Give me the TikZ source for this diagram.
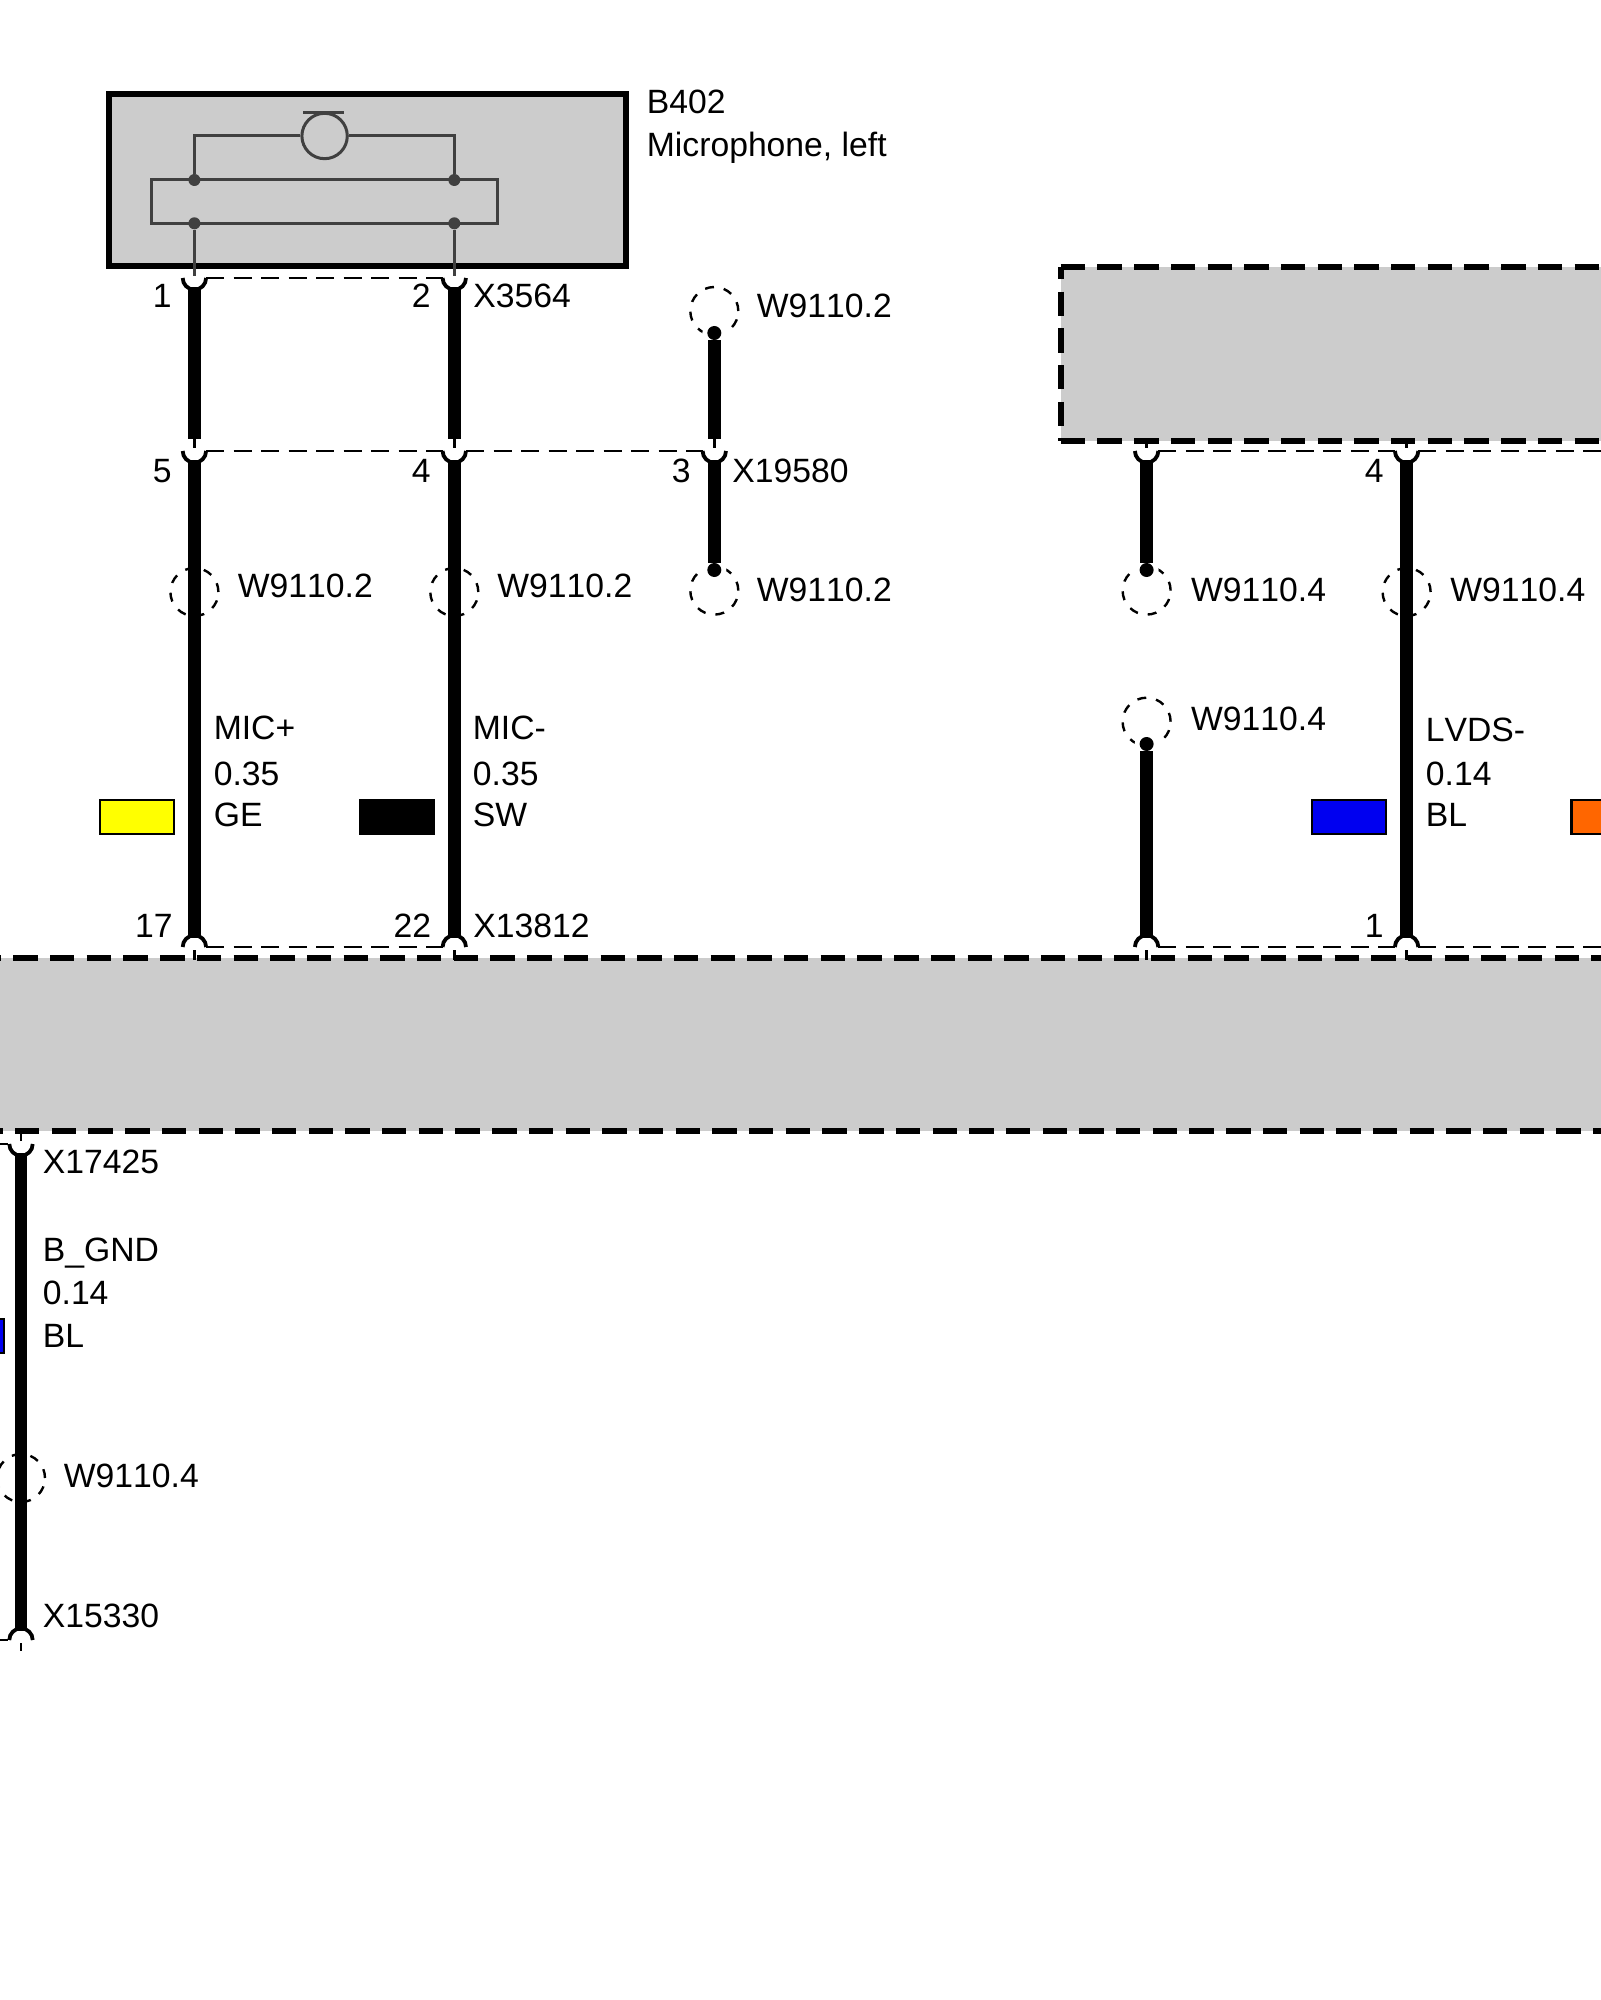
\documentclass[tikz,border=0pt]{standalone}
\usepackage{fontspec}
\setmainfont[Kerning=Off]{Liberation Sans}
\definecolor{boxgray}{HTML}{CCCCCC}
\definecolor{symgray}{HTML}{404040}
\definecolor{wireblue}{HTML}{0000F0}
\definecolor{wireorange}{HTML}{FF6600}
\definecolor{wireyellow}{HTML}{FFFF00}
\begin{document}
\begin{tikzpicture}[
    x=0.5pt, y=-0.5pt,
    lbl/.style={anchor=base west, inner sep=0pt, xshift=-0.5pt, font=\fontsize{16.85}{18}\selectfont},
    pinnum/.style={anchor=base east, inner sep=0pt, font=\fontsize{16.85}{18}\selectfont},
    wire/.style={line width=6.3pt},
    pinstub/.style={line width=1.3pt},
    pinarc/.style={line width=1.9pt},
    conndash/.style={line width=1.4pt, dash pattern=on 9pt off 4.75pt},
    compdash/.style={line width=3pt, dash pattern=on 12.2pt off 6.15pt},
    splice/.style={circle, minimum size=24pt, inner sep=0pt, draw=black, line width=1.2pt, dash pattern=on 4.5pt off 5pt},
    wireend/.style={circle, minimum size=7pt, inner sep=0pt, fill=black},
    wirehalo/.style={circle, minimum size=12pt, inner sep=0pt, fill=white},
    swatch/.style={minimum width=37pt, minimum height=17pt, inner sep=0pt, draw=black, line width=1.3pt},
    sympt/.style={circle, minimum size=6pt, inner sep=0pt, fill=symgray},
    symline/.style={draw=symgray, line width=1.5pt}
]
    \useasboundingbox (0,0) rectangle (1600,2000);

    % component boxes
    \node[minimum width=258.5pt, minimum height=86pt, inner sep=0pt, fill=boxgray, draw=black, line width=3pt] (mic) at (367.7,179.7) {};
    \fill[boxgray] (1060.7,266.7) rectangle (1620,440.7);
    \draw[compdash] (1060.7,266.7) -- (1620,266.7);
    \draw[compdash] (1060.7,440.7) -- (1620,440.7);
    \draw[compdash, dash phase=5.85pt] (1060.7,266.7) -- (1060.7,440.7);
    \fill[boxgray] (-20,958.3) rectangle (1620,1131);
    \draw[compdash] (-23.4,958.3) -- (1620,958.3);
    \draw[compdash] (-21.7,1131) -- (1620,1131);

    % microphone symbol
    \node[circle, minimum size=22.7pt, inner sep=0pt, symline] (capsule) at (324.6,136) {};
    \draw[symline] (303,112.7) -- (344,112.7);
    \coordinate (ml) at (194.4,136);
    \coordinate (mr) at (454.3,136);
    \node[sympt] (t1) at (194.4,180) {};
    \node[sympt] (t2) at (454.3,180) {};
    \node[sympt] (t3) at (194.4,223.3) {};
    \node[sympt] (t4) at (454.3,223.3) {};
    \draw[symline] (t1) -- (ml) -- (capsule);
    \draw[symline] (t2) -- (mr) -- (capsule);
    \draw[symline] (151.4,180) rectangle (497.9,223.3);

    % pins, cup side up
    \foreach \n/\x/\y in {a/194.4/278, b/454.3/278, c/194.4/451, d/454.3/451, e/714.3/451, f/1146.6/451, g/1406.6/451, h/21/1144} {
        \coordinate (pin\n) at (\x,\y);
        \draw[pinarc] (\x-11.7,\y) arc (180:0:11.7);
    }
    % pins, cup side down
    \foreach \n/\x/\y in {k/194.4/947, l/454.3/947, m/1146.6/947, n/1406.6/947, o/21/1640} {
        \coordinate (pin\n) at (\x,\y);
        \draw[pinarc] (\x-11.7,\y) arc (180:360:11.7);
    }

    % stubs
    \draw[symline, pinstub] (t3) -- (194.4,276);
    \draw[symline, pinstub] (t4) -- (454.3,276);
    \foreach \p in {c,d,e,f,g,h} \draw[pinstub] ([yshift=1.5pt]pin\p) -- ++(0,-9);
    \foreach \p in {k,l,m,n} \draw[pinstub] ([yshift=-1.5pt]pin\p) -- ++(0,10);
    \draw[pinstub] ([yshift=-1.5pt]pino) -- ++(0,8);

    % connector outlines
    \draw[conndash] (206.1,278) -- (442.6,278);
    \draw[conndash] (206.1,451) -- (442.6,451);
    \draw[conndash] (466,451) -- (702.6,451);
    \draw[conndash] (1158.3,451) -- (1394.9,451);
    \draw[conndash] (1418.3,451) -- (1620,451);
    \draw[conndash] (206.1,947) -- (442.6,947);
    \draw[conndash] (1158.3,947) -- (1394.9,947);
    \draw[conndash] (1418.3,947) -- (1620,947);
    \draw[conndash] (-10,1144) -- (9.3,1144);
    \draw[conndash] (-10,1640) -- (9.3,1640);

    % splices on running wires
    \node[splice] (s1) at (194.4,592) {};
    \node[splice] (s2) at (454.3,592) {};
    \node[splice] (s3) at (1406.6,592) {};
    \node[splice] (s4) at (21,1478) {};

    % splices at wire ends
    \node[splice] (s5) at (714.3,311) {};
    \node[splice] (s6) at (714.3,590.6) {};
    \node[splice] (s7) at (1146.6,590.6) {};
    \node[splice] (s8) at (1146.6,721.7) {};
    \node[wirehalo] at (714.3,333) {};
    \node[wirehalo] at (714.3,570) {};
    \node[wirehalo] at (1146.6,570) {};
    \node[wirehalo] at (1146.6,744) {};
    \node[wireend] (d5) at (714.3,333) {};
    \node[wireend] (d6) at (714.3,570) {};
    \node[wireend] (d7) at (1146.6,570) {};
    \node[wireend] (d8) at (1146.6,744) {};

    % wires
    \draw[wire] ([yshift=-4.5pt]pina) -- ([yshift=6pt]pinc);
    \draw[wire] ([yshift=-4.5pt]pinb) -- ([yshift=6pt]pind);
    \draw[wire] ([yshift=-4.5pt]pinc) -- ([yshift=4.5pt]pink);
    \draw[wire] ([yshift=-4.5pt]pind) -- ([yshift=4.5pt]pinl);
    \draw[wire] ([yshift=-6pt]d5) -- ([yshift=6pt]pine);
    \draw[wire] ([yshift=-4.5pt]pine) -- ([yshift=6.5pt]d6);
    \draw[wire] ([yshift=-4.5pt]pinf) -- ([yshift=6.5pt]d7);
    \draw[wire] ([yshift=-6pt]d8) -- ([yshift=4.5pt]pinm);
    \draw[wire] ([yshift=-4.5pt]ping) -- ([yshift=4.5pt]pinn);
    \draw[wire] ([yshift=-4.5pt]pinh) -- ([yshift=4.5pt]pino);

    % colour swatches
    \node[swatch, fill=wireyellow] (cy) at (137,817) {};
    \node[swatch, fill=black] (cb) at (397,817) {};
    \node[swatch, fill=wireblue] (cl) at (1349,817) {};
    \node[swatch, fill=wireorange] (co) at (1608.5,817) {};
    \node[swatch, fill=wireblue] (cg) at (-33,1336) {};

    % labels
    \node[lbl] (lb1) at (647.5,114) {B402};
    \node[lbl] (lb2) at (647.5,157) {Microphone, left};
    \node[lbl] (lx1) at (474,308) {X3564};
    \node[lbl] (lx2) at (733,482) {X19580};
    \node[lbl] (lx3) at (474,937) {X13812};
    \node[lbl] (lx4) at (43.5,1173) {X17425};
    \node[lbl] (lx5) at (43.5,1627) {X15330};
    \node[pinnum] (n1) at (172,308) {1};
    \node[pinnum] (n2) at (431,308) {2};
    \node[pinnum] (n3) at (172,482) {5};
    \node[pinnum] (n4) at (431,482) {4};
    \node[pinnum] (n5) at (691,482) {3};
    \node[pinnum] (n6) at (1384,482) {4};
    \node[pinnum] (n7) at (173,937) {17};
    \node[pinnum] (n8) at (431.5,937) {22};
    \node[pinnum] (n9) at (1384,937) {1};
    \node[lbl] (w1) at (757.5,318) {W9110.2};
    \node[lbl] (w2) at (238.5,597.5) {W9110.2};
    \node[lbl] (w3) at (498,597.5) {W9110.2};
    \node[lbl] (w4) at (757.5,601.7) {W9110.2};
    \node[lbl] (w5) at (1191.7,601.7) {W9110.4};
    \node[lbl] (w6) at (1451,601.7) {W9110.4};
    \node[lbl] (w7) at (1191.7,730) {W9110.4};
    \node[lbl] (w8) at (64.5,1487) {W9110.4};
    \node[lbl] (m1) at (214.4,739) {MIC+};
    \node[lbl] (m2) at (214.4,785) {0.35};
    \node[lbl] (m3) at (214.4,826.7) {GE};
    \node[lbl] (m4) at (473.5,739) {MIC-};
    \node[lbl] (m5) at (473.5,785) {0.35};
    \node[lbl] (m6) at (473.5,826.7) {SW};
    \node[lbl] (m7) at (1426.5,741.7) {LVDS-};
    \node[lbl] (m8) at (1426.5,785) {0.14};
    \node[lbl] (m9) at (1426.5,826.7) {BL};
    \node[lbl] (m10) at (43.5,1261) {B\_GND};
    \node[lbl] (m11) at (43.5,1304) {0.14};
    \node[lbl] (m12) at (43.5,1347) {BL};
\end{tikzpicture}
\end{document}
